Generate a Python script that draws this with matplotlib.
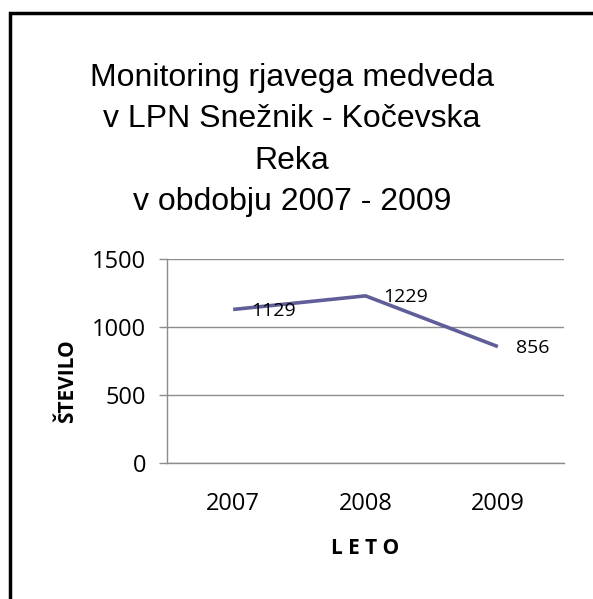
#!/usr/bin/env python3

import matplotlib.pyplot as plt
import matplotlib.patches as patches
import numpy as np

years = ['2007', '2008', '2009']
counts = [1129, 1229, 856]
y_ticks = [0, 500, 1000, 1500]

title = 'Monitoring rjavega medveda\nv LPN Snežnik - Kočevska\nReka\nv obdobju 2007 - 2009'


def main():
    fig = plt.figure(figsize=(5.93, 5.99), dpi=100)
    ax = fig.add_axes([167 / 593, 1 - 463 / 599, 397 / 593, 204 / 599])

    x = np.arange(len(years))
    ax.plot(x, counts, color='#5F5E99', lw=2.6, solid_capstyle='butt')

    # data labels to the right of each point
    for xi, val in zip(x, counts):
        ax.annotate(str(val), xy=(xi, val), xytext=(13, -1),
                    textcoords='offset points', ha='left', va='center',
                    fontsize=14, family='Open Sans')

    ax.set_xlim(-0.5, len(years) - 0.5)
    ax.set_ylim(0, 1500)
    ax.set_xticks(x)
    ax.set_xticklabels(years, family='Open Sans', fontsize=17)
    ax.set_yticks(y_ticks)
    ax.set_yticklabels([str(v) for v in y_ticks], family='Open Sans', fontsize=17)
    ax.tick_params(axis='x', length=0, pad=21)
    ax.tick_params(axis='y', length=6, width=1, color='#8C8C8C', pad=9)

    ax.grid(axis='y', color='#8C8C8C', lw=1)
    ax.set_axisbelow(True)
    for side in ('top', 'right'):
        ax.spines[side].set_visible(False)
    for side in ('left', 'bottom'):
        ax.spines[side].set_color('#8C8C8C')
        ax.spines[side].set_linewidth(1)

    ax.set_ylabel('ŠTEVILO', family='Open Sans', fontweight='bold',
                  fontsize=15, va='center')
    ax.yaxis.set_label_coords((68 - 167) / 397, (463 - 381) / 204)
    ax.set_xlabel('L E T O', family='Open Sans', fontweight='bold',
                  fontsize=15, va='center')
    ax.xaxis.set_label_coords(0.5, (463 - 549) / 204)

    fig.text(292 / 593, 1 - 140 / 599, title, ha='center', va='center',
             multialignment='center', family='Liberation Sans', fontsize=23,
             linespacing=1.48)

    # chart area border (runs off the right and bottom edges)
    border = patches.Rectangle((9.5 / 593, -0.1), 1.2, 1.1 - 13.5 / 599,
                               transform=fig.transFigure, fill=False,
                               edgecolor='black', lw=2.5, clip_on=False)
    fig.patches.append(border)

    fig.savefig('out.png', dpi=100)


if __name__ == '__main__':
    main()
